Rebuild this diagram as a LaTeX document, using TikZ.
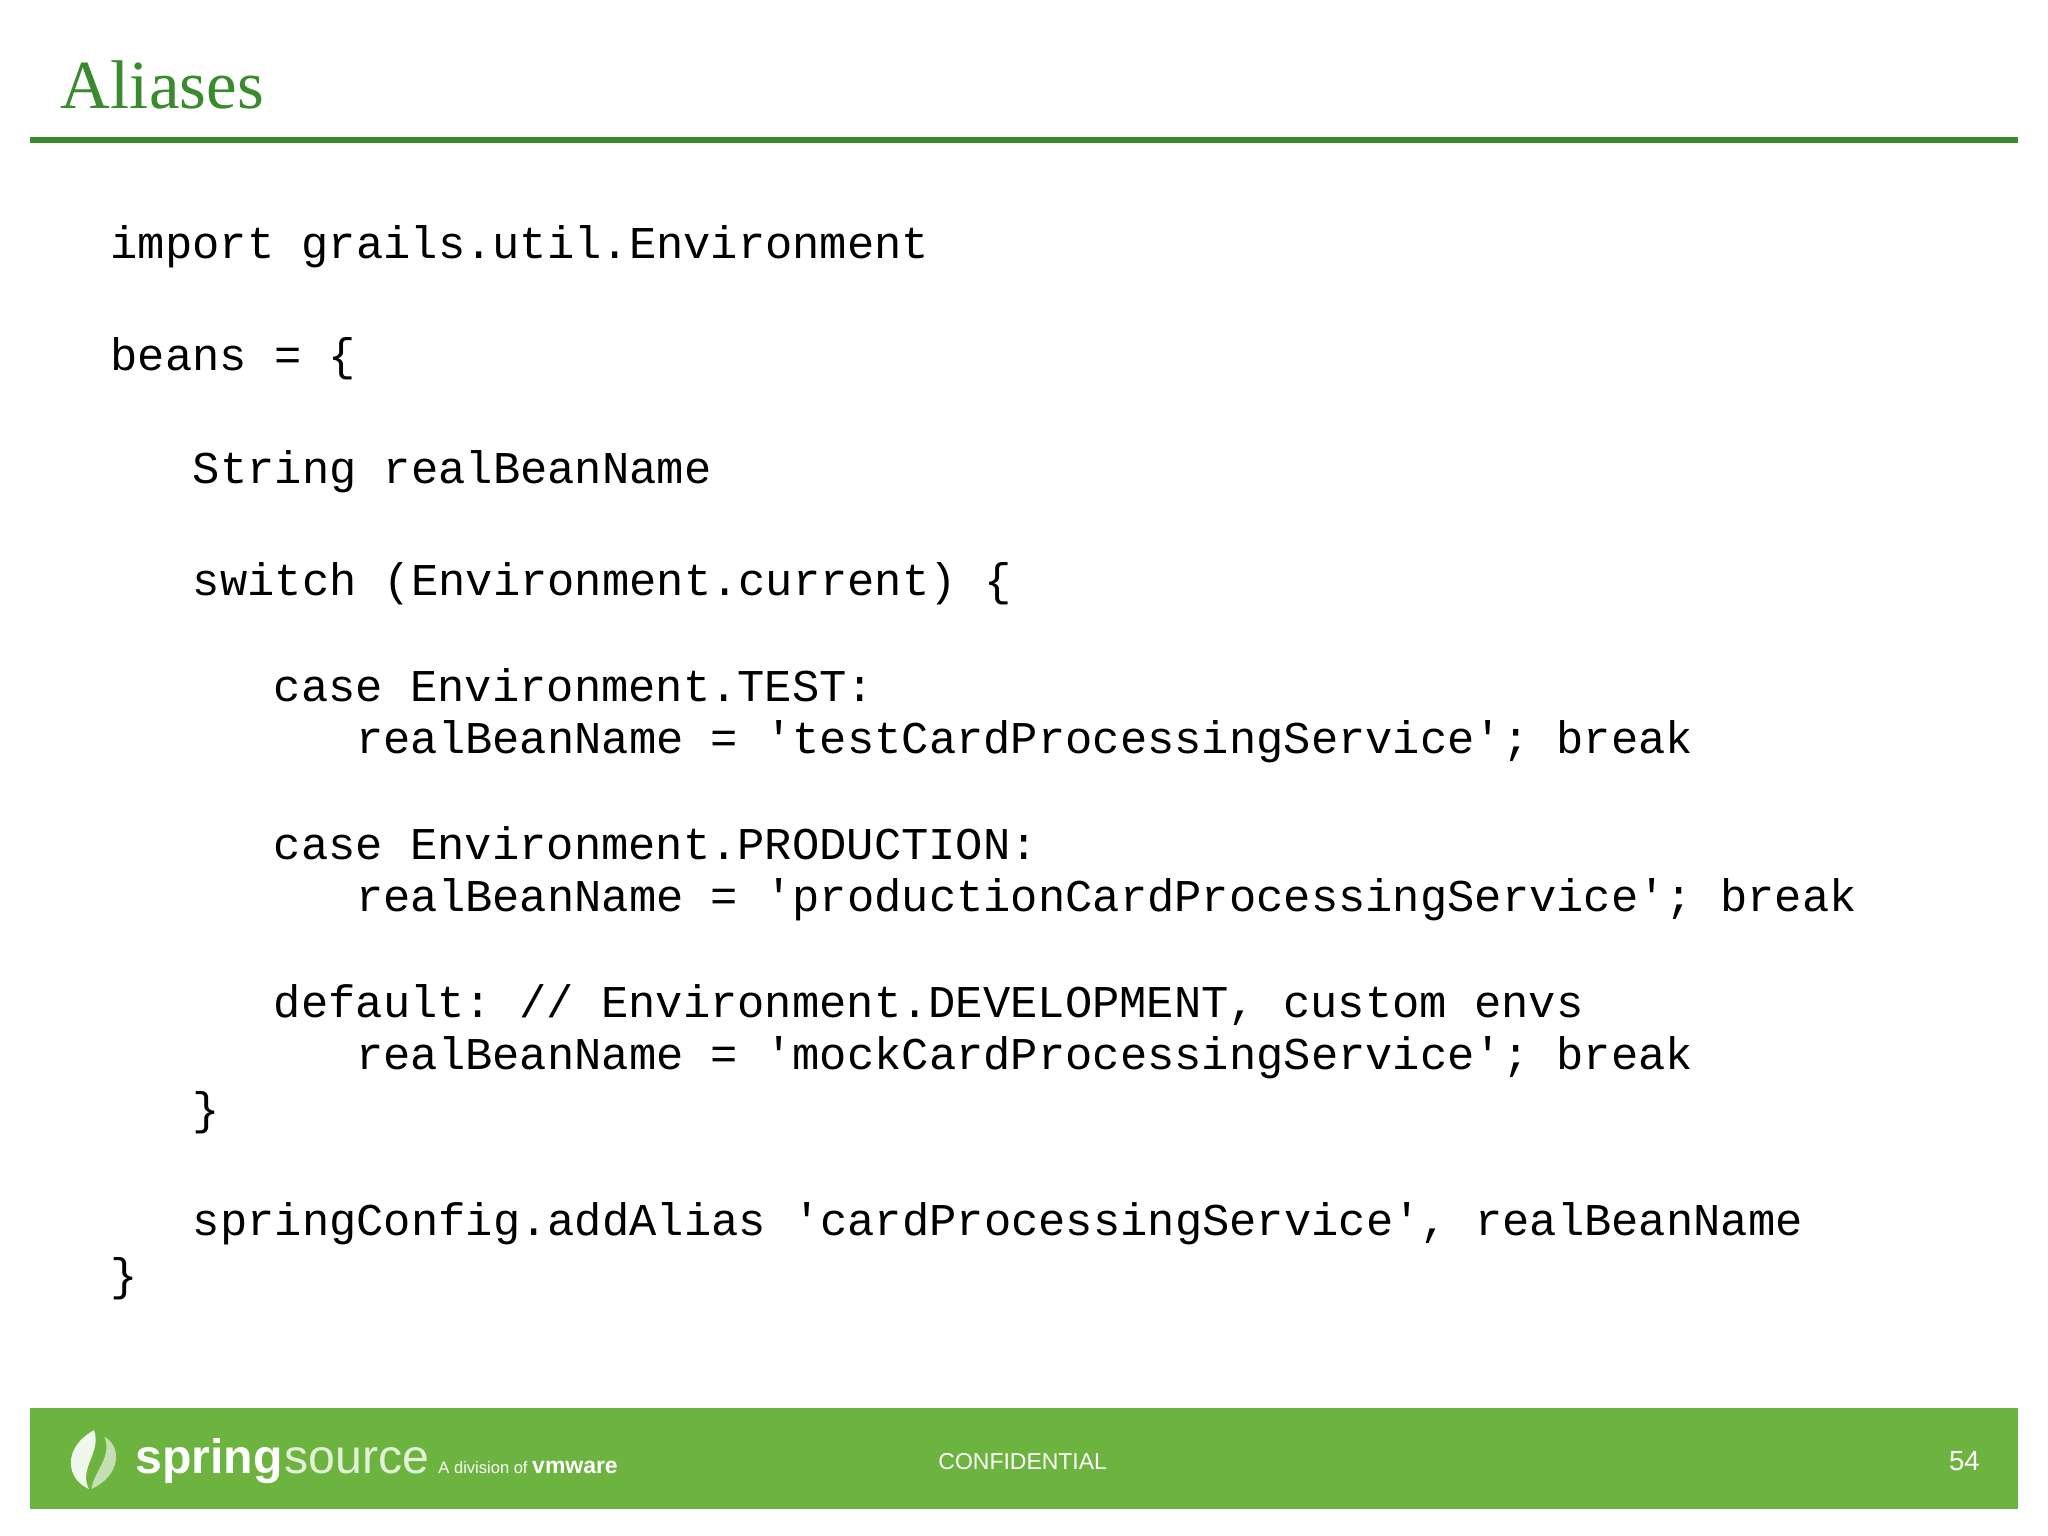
\documentclass[tikz,border=0pt]{standalone}
\usepackage{fontspec}
\setmainfont{Liberation Serif}
\setsansfont{Liberation Sans}
\setmonofont{Liberation Mono}
\definecolor{sgreen}{HTML}{3A8A2E}
\definecolor{fgreen}{HTML}{6DB33F}
\begin{document}
\begin{tikzpicture}[x=0.01cm,y=-0.01cm,
  code/.style={anchor=base west,inner sep=0,font=\fontsize{9.9}{10}\ttfamily}]
\useasboundingbox (0,0) rectangle (1568,1176);
\fill[white] (0,0) rectangle (1568,1176);
\node[anchor=base west,inner sep=0,text=sgreen,font=\fontsize{15}{16}\selectfont] (title) at (46,83) {Aliases};
\draw[sgreen,line width=1.2pt] (23,107) -- (1545,107);
\node[code] (l1) at (84,198) {import grails.util.Environment};
\node[code] (l2) at (84,284) {beans = \{};
\node[code] (l3) at (147,370) {String realBeanName};
\node[code] (l4) at (147,456) {switch (Environment.current) \{};
\node[code] (l5) at (209,537) {case Environment.TEST:};
\node[code] (l6) at (272,577) {realBeanName = 'testCardProcessingService'; break};
\node[code] (l7) at (209,658) {case Environment.PRODUCTION:};
\node[code] (l8) at (272,698) {realBeanName = 'productionCardProcessingService'; break};
\node[code] (l9) at (209,779) {default: // Environment.DEVELOPMENT, custom envs};
\node[code] (l10) at (272,819) {realBeanName = 'mockCardProcessingService'; break};
\node[code] (l11) at (147,861) {\}};
\node[code] (l12) at (147,946) {springConfig.addAlias 'cardProcessingService', realBeanName};
\node[code] (l13) at (84,988) {\}};
\fill[fgreen] (23,1078) rectangle (1545,1155);
\fill[white,opacity=0.9] (72,1095) .. controls (48,1108) and (50,1132) .. (68,1140) .. controls (60,1124) and (78,1112) .. (72,1095);
\fill[white,opacity=0.6] (70,1140) .. controls (92,1130) and (94,1108) .. (80,1100) .. controls (86,1116) and (72,1126) .. (70,1140);
\node[anchor=base west,inner sep=0,text=white,font=\sffamily\bfseries\fontsize{10.5}{11}\selectfont] (spring) at (103,1128) {spring};
\node[anchor=base west,inner sep=0,text=white!80!fgreen,font=\sffamily\fontsize{10.5}{11}\selectfont] (source) at (spring.base east) {source};
\node[anchor=base west,inner sep=0,text=white,font=\sffamily\fontsize{3.6}{4}\selectfont] (div) at (335,1128) {A division of \textbf{\fontsize{5}{5}\selectfont vmware}};
\node[text=white,font=\sffamily\fontsize{5}{6}\selectfont] (conf) at (783,1119) {CONFIDENTIAL};
\node[text=white,font=\sffamily\fontsize{6}{7}\selectfont] (num) at (1504,1119) {54};
\end{tikzpicture}
\end{document}
